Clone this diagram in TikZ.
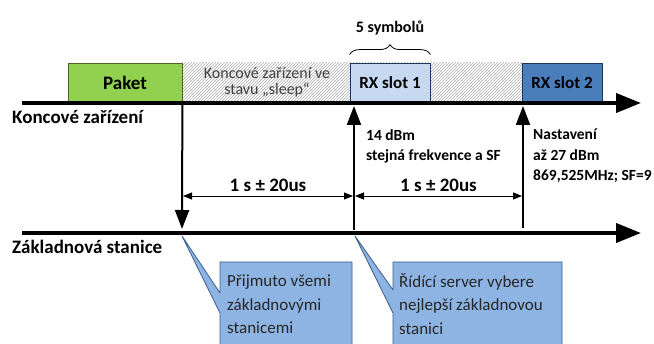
\documentclass[tikz,border=0pt]{standalone}
\usepackage{fontspec}
\setmainfont{Carlito}
\usetikzlibrary{arrows.meta,patterns,decorations.pathreplacing}
\definecolor{paketgreen}{HTML}{92D050}
\definecolor{paketedge}{HTML}{4F6228}
\definecolor{slotlight}{HTML}{C6D9F1}
\definecolor{slotdark}{HTML}{4A7EBB}
\definecolor{slotedge}{HTML}{17375E}
\definecolor{calloutblue}{HTML}{8EB4E3}
\definecolor{calloutedge}{HTML}{385D8A}
\begin{document}
\begin{tikzpicture}[x=1pt, y=-1pt, line join=round, font=\fontsize{16}{19}\selectfont,
	timeline/.style={line width=4pt, -{Triangle[length=25pt,width=19pt]}},
	event/.style={line width=2pt, -{Triangle[length=19pt,width=14pt]}},
	span/.style={line width=0.8pt, {Triangle[length=9pt,width=7pt]}-{Triangle[length=9pt,width=7pt]}},
	slotbox/.style={draw, line width=0.8pt, minimum height=39pt, inner sep=0pt, font=\fontsize{17}{20}\selectfont\bfseries},
	lbl/.style={anchor=west, inner sep=0pt, font=\fontsize{19}{22}\selectfont\bfseries},
	note/.style={anchor=north west, inner sep=0pt, align=left, font=\fontsize{15.5}{20.5}\selectfont\bfseries},
	callout/.style={fill=calloutblue, draw=calloutedge, line width=0.8pt},
	callouttext/.style={anchor=north west, inner sep=0pt, align=left, text=black!85, font=\fontsize{17}{23.5}\selectfont}]
	\clip (0,0) rectangle (654,344);
	\fill[pattern=north east lines, pattern color=gray!65] (182,63) rectangle (522,102);
	\node[slotbox, fill=paketgreen, draw=paketedge, minimum width=114pt, font=\fontsize{19}{22}\selectfont\bfseries] (paket) at (125,82.5) {Paket};
	\node[align=center, inner sep=0pt, text=black!75, font=\fontsize{16}{16}\selectfont] (sleep) at (267,82) {Koncové zařízení ve\\stavu „sleep“};
	\node[slotbox, fill=slotlight, draw=slotedge, minimum width=80pt] (rx1) at (390,82.5) {RX slot 1};
	\node[slotbox, fill=slotdark, draw=slotedge, minimum width=80pt] (rx2) at (562,82.5) {RX slot 2};
	\draw[line width=0.8pt, decorate, decoration={brace, amplitude=10pt}] ([yshift=8pt]rx1.north west) -- ([yshift=8pt]rx1.north east);
	\node[font=\fontsize{16}{19}\selectfont\bfseries] (sym) at (390,28) {5 symbolů};
	\coordinate (devL) at (22,103);
	\coordinate (devR) at (641,103);
	\coordinate (bsL) at (22,233);
	\coordinate (bsR) at (641,233);
	\draw[timeline] (devL) -- (devR);
	\draw[timeline] (bsL) -- (bsR);
	\node[lbl] (dev) at (12,117) {Koncové zařízení};
	\node[lbl] (bs) at (12,247) {Základnová stanice};
	\coordinate (txEnd) at (182,229);
	\coordinate (ack1) at (354,230);
	\coordinate (ack1Top) at (354,106);
	\coordinate (ack2) at (523,228);
	\coordinate (ack2Top) at (523,106);
	\draw[event] (paket.south east) -- (txEnd);
	\draw[event] (ack1) -- (ack1Top);
	\draw[event] (ack2) -- (ack2Top);
	\coordinate (d1) at (183,196);
	\coordinate (d2) at (353,196);
	\coordinate (d3) at (355,196);
	\coordinate (d4) at (522,196);
	\draw[span] (d1) -- node[above=1pt, font=\fontsize{19}{22}\selectfont\bfseries] (delay1) {1 s ± 20us} (d2);
	\draw[span] (d3) -- node[above=1pt, font=\fontsize{19}{22}\selectfont\bfseries] (delay2) {1 s ± 20us} (d4);
	\node[note] (rx1note) at (366,129) {14 dBm\\stejná frekvence a SF};
	\node[note] (rx2note) at (533,129) {Nastavení\\až 27 dBm\\869,525MHz; SF=9};
	\filldraw[callout] (182,236) -- (220,293) -- (220,262) -- (352,262) -- (352,350) -- (220,350) -- (220,313) -- cycle;
	\filldraw[callout] (355,236) -- (393,290) -- (393,262) -- (562,262) -- (562,350) -- (393,350) -- (393,313) -- cycle;
	\node[callouttext] (rcv) at (227,275) {Přijmuto všemi\\základnovými\\stanicemi};
	\node[callouttext] (srv) at (399,273) {Řídící server vybere\\nejlepší základnovou\\stanici};
\end{tikzpicture}
\end{document}
